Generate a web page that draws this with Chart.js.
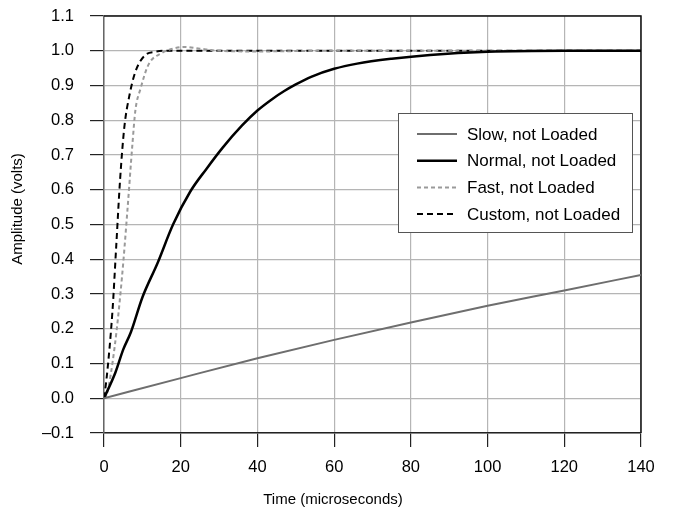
<!DOCTYPE html>
<html lang="en">

<head>
  <meta charset="UTF-8" />
  <title>Amplitude vs Time</title>
  <script src="https://cdn.jsdelivr.net/npm/chart.js@4"></script>
  <style>
    body { margin: 0; background: #fff; }
  </style>
</head>

<body>
  <canvas id="myChart" width="673" height="510"></canvas>
  <script>
    // values
    const slowTime = [0, 20, 40, 60, 80, 100, 120, 140];
    const slowAmp = [0, 0.058, 0.115, 0.168, 0.218, 0.266, 0.31, 0.355];

    const normalTime = [0, 3, 5, 7, 10, 14, 18, 22.5, 26.7, 31, 36, 40, 44, 47, 50, 54, 60, 66, 75, 85, 100, 120, 140];
    const normalAmp = [0, 0.075, 0.14, 0.19, 0.29, 0.39, 0.5, 0.595, 0.66, 0.722, 0.785, 0.828, 0.862, 0.884, 0.903, 0.925, 0.948, 0.963, 0.977, 0.988, 0.997, 1.0, 1.0];

    const fastTime = [0, 0.7, 2.8, 4.7, 6.1, 7.4, 8.2, 9.5, 11.6, 15, 18, 21, 25, 30, 40, 60, 80, 100, 120, 140];
    const fastAmp = [0, 0.01, 0.15, 0.35, 0.54, 0.73, 0.83, 0.89, 0.96, 0.993, 1.006, 1.011, 1.006, 1.0, 0.998, 1.0, 1.0, 1.0, 1.0, 1.0];

    const customTime = [0, 0.7, 2.2, 3.2, 4.2, 5.3, 6.6, 8.2, 10.8, 13.3, 16, 20, 30, 50, 80, 110, 140];
    const customAmp = [0, 0.06, 0.25, 0.44, 0.63, 0.78, 0.87, 0.94, 0.988, 0.997, 1.0, 1.0, 1.0, 1.0, 1.0, 1.0, 1.0];

    const seriesNames = ["Slow, not Loaded", "Normal, not Loaded", "Fast, not Loaded", "Custom, not Loaded"];
    const xTitle = "Time (microseconds)";
    const yTitle = "Amplitude (volts)";

    const FONT = "'Liberation Sans', Arial, Helvetica, sans-serif";

    function pts(xs, ys) {
      return xs.map((x, i) => ({ x: x, y: ys[i] }));
    }

    // frame on top and right of the plot
    const framePlugin = {
      id: "frame",
      beforeDatasetsDraw(chart) {
        const a = chart.chartArea;
        const ctx = chart.ctx;
        ctx.save();
        ctx.lineWidth = 1.5;
        ctx.strokeStyle = "#111";
        ctx.beginPath();
        ctx.moveTo(a.left, a.top);
        ctx.lineTo(a.right, a.top);
        ctx.lineTo(a.right, a.bottom);
        ctx.stroke();
        ctx.restore();
      },
    };

    // axis titles: they sit off-centre in the original, so draw them here
    const axisTitles = {
      id: "axisTitles",
      afterDraw(chart) {
        const ctx = chart.ctx;
        ctx.save();
        ctx.fillStyle = "#000";
        ctx.font = "15px " + FONT;
        ctx.textAlign = "center";
        ctx.textBaseline = "middle";
        ctx.fillText(xTitle, 333, 500);
        ctx.translate(18, 209);
        ctx.rotate(-Math.PI / 2);
        ctx.fillText(yTitle, 0, 0);
        ctx.restore();
      },
    };

    // legend box inside the plot
    const boxLegend = {
      id: "boxLegend",
      afterDraw(chart) {
        const ctx = chart.ctx;
        const bx = 398, by = 113, bw = 234, bh = 119;
        ctx.save();
        ctx.fillStyle = "#fff";
        ctx.fillRect(bx, by, bw, bh);
        ctx.strokeStyle = "#555";
        ctx.lineWidth = 1;
        ctx.strokeRect(bx + 0.5, by + 0.5, bw, bh);
        ctx.font = "17px " + FONT;
        ctx.textBaseline = "middle";
        chart.data.datasets.forEach((ds, i) => {
          const y = 134 + i * 26.7;
          ctx.strokeStyle = ds.borderColor;
          ctx.lineWidth = ds.borderWidth;
          ctx.setLineDash(ds.borderDash || []);
          ctx.beginPath();
          ctx.moveTo(417, y);
          ctx.lineTo(457, y);
          ctx.stroke();
          ctx.setLineDash([]);
          ctx.fillStyle = "#000";
          ctx.fillText(ds.label, 467, y + 1);
        });
        ctx.restore();
      },
    };

    const ctx = document.getElementById("myChart").getContext("2d");
    const myChart = new Chart(ctx, {
      type: "line",
      data: {
        datasets: [
          {
            label: seriesNames[0],
            data: pts(slowTime, slowAmp),
            borderColor: "#6e6e6e",
            borderWidth: 2,
          },
          {
            label: seriesNames[1],
            data: pts(normalTime, normalAmp),
            borderColor: "#000",
            borderWidth: 2.5,
          },
          {
            label: seriesNames[2],
            data: pts(fastTime, fastAmp),
            borderColor: "#9a9a9a",
            borderWidth: 2,
            borderDash: [4, 3],
          },
          {
            label: seriesNames[3],
            data: pts(customTime, customAmp),
            borderColor: "#000",
            borderWidth: 2,
            borderDash: [6, 4],
          },
        ],
      },
      options: {
        responsive: false,
        animation: false,
        parsing: false,
        elements: {
          point: { radius: 0 },
          line: { cubicInterpolationMode: "monotone", fill: false },
        },
        layout: { padding: { top: 16, right: 32, left: 0, bottom: 0 } },
        plugins: {
          legend: { display: false },
          tooltip: { enabled: false },
        },
        scales: {
          x: {
            type: "linear",
            min: 0,
            max: 140,
            ticks: { stepSize: 20, color: "#000", font: { size: 16.5, family: FONT }, padding: 11 },
            grid: { color: "#b5b5b5", tickColor: "#222", tickLength: 14, lineWidth: 1.2 },
            border: { color: "#222", width: 1.5 },
            afterFit(s) { s.height = 77; s.paddingLeft = 0; s.paddingRight = 0; },
          },
          y: {
            min: -0.1,
            max: 1.1,
            ticks: {
              stepSize: 0.1,
              color: "#000",
              font: { size: 16.5, family: FONT },
              padding: 16,
              callback: (v) => (v < -0.001 ? "\u2013" + Math.abs(v).toFixed(1) : Math.abs(v).toFixed(1)),
            },
            grid: { color: "#b5b5b5", tickColor: "#222", tickLength: 14, lineWidth: 1.2 },
            border: { color: "#666", width: 1.5 },
            afterFit(s) { s.width = 104; s.paddingTop = 0; s.paddingBottom = 0; },
          },
        },
      },
      plugins: [framePlugin, axisTitles, boxLegend],
    });
  </script>
</body>

</html>
